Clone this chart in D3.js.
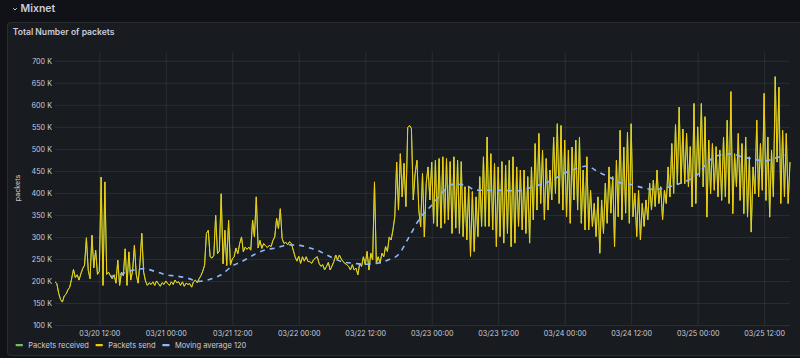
<!DOCTYPE html>
<html><head><meta charset="utf-8">
<script src="https://cdn.jsdelivr.net/npm/d3@7"></script>
<style>
html,body{margin:0;padding:0;background:#111217;overflow:hidden;}
svg{display:block;font-family:Inter,"Noto Sans",sans-serif;}
</style></head><body>
<svg id="chart" width="800" height="358"></svg>
<script>
// ---- data (values in thousands of packets) ----
const startTime = "2023-03-20T04:00:00";
const stepMinutes = 20;
const packetsSend = [
198,194,172,158,152,166,170,180,186,205,
226,208,214,202,216,228,236,298,224,205,
304,230,270,215,222,436,190,425,215,220,
212,205,214,195,247,190,220,212,273,190,
266,202,222,281,215,195,240,308,220,200,
190,196,192,198,190,200,194,188,196,192,
200,194,190,198,192,202,196,198,
190,198,188,195,192,194,186,198,202,196,
205,212,222,236,308,315,255,252,258,349,
262,268,398,239,315,235,338,236,250,255,
275,262,285,300,266,277,272,277,270,338,
300,391,275,292,274,285,280,276,281,278,
292,300,342,319,364,296,285,288,282,289,
285,270,255,245,256,240,255,245,
255,244,244,240,248,252,255,240,233,237,
225,233,242,225,234,244,259,248,259,250,
244,240,237,233,225,237,225,229,214,240,
233,255,237,267,225,263,248,425,240,255,
240,263,255,278,267,300,293,316,346,470,
361,489,391,467,369,549,553,546,384,444,
474,361,323,444,300,421,459,384,
470,331,474,324,478,320,482,331,478,339,
471,308,482,320,474,308,471,301,414,293,
414,256,403,267,391,301,437,324,482,324,
527,324,489,316,467,278,459,301,471,286,
463,308,474,278,482,286,459,324,452,316,
452,308,437,286,459,339,512,361,535,376,
497,339,478,361,452,
384,527,399,557,376,553,361,520,346,497,
331,504,384,520,361,527,331,452,316,482,
316,406,324,376,301,391,263,384,308,422,
331,459,354,437,278,474,346,542,339,504,
354,538,331,557,346,399,301,406,293,376,
324,384,339,422,361,429,369,452,376,414,
339,406,376,459,391,512,399,
555,420,595,421,545,421,535,414,505,368,
603,376,550,436,603,414,573,345,520,398,
512,406,505,391,497,383,527,391,565,376,
630,353,489,414,535,383,512,353,527,345,
482,311,459,398,565,391,512,406,626,383,
527,345,497,391,664,470,640,376,542,391,
535,376,470
];
const packetsReceived = packetsSend.slice();
const maStart = "2023-03-20T14:00:00";
const maStepMinutes = 120;
const movingAverage = [
210,216,224,228,222,214,211,206,199,204,
214,234,246,260,271,275,282,281,275,266,
253,243,240,238,240,247,260,302,345,372,
402,420,418,406,406,406,405,405,413,420,
431,445,455,461,448,436,423,419,412,408,
411,418,427,442,472,486,489,482,477,472,
479,486
];
const yTicks = [100,150,200,250,300,350,400,450,500,550,600,650,700];
const xTickTimes = ["2023-03-20T12:00","2023-03-21T00:00","2023-03-21T12:00","2023-03-22T00:00",
  "2023-03-22T12:00","2023-03-23T00:00","2023-03-23T12:00","2023-03-24T00:00",
  "2023-03-24T12:00","2023-03-25T00:00","2023-03-25T12:00"];
const seriesNames = ["Packets received","Packets send","Moving average 120"];
const seriesColors = ["#73BF69","#F2CC0C","#8AB8FF"];

// ---- drawing ----
const svg = d3.select("#chart");
const parse = d3.timeParse("%Y-%m-%dT%H:%M:%S");
const parseShort = d3.timeParse("%Y-%m-%dT%H:%M");
const t0 = parse(startTime), m0 = parse(maStart);
const sendPts = packetsSend.map((v,i)=>({t:d3.timeMinute.offset(t0,i*stepMinutes),v}));
const recvPts = packetsReceived.map((v,i)=>({t:d3.timeMinute.offset(t0,i*stepMinutes),v}));
const maPts = movingAverage.map((v,i)=>({t:d3.timeMinute.offset(m0,i*maStepMinutes),v}));

const L=55,R=790,T=52,B=325;
const x = d3.scaleTime().domain([t0, parse("2023-03-25T16:40:00")]).range([L,R]);
const y = d3.scaleLinear().domain([100,720]).range([B,T]);

// background panel
svg.append("rect").attr("x",7.5).attr("y",22.5).attr("width",800).attr("height",333)
  .attr("rx",3).attr("fill","#181b1f").attr("stroke","rgba(204,204,220,0.12)");
// row header
svg.append("path").attr("d","M13.2,8.2 L15,10 L16.8,8.2").attr("fill","none")
  .attr("stroke","#ccccdc").attr("stroke-width",1);
svg.append("text").attr("x",20.5).attr("y",11.5).attr("fill","#ccccdc")
  .attr("font-size",10.5).attr("font-weight",600).text("Mixnet");
svg.append("text").attr("x",12.7).attr("y",35.3).attr("fill","#ccccdc")
  .attr("font-size",8.6).attr("font-weight",600).text("Total Number of packets");

// grid
const g = svg.append("g");
const xTicks = xTickTimes.map(s=>parseShort(s));
const xAxis = d3.axisBottom(x).tickValues(xTicks).tickFormat(d3.timeFormat("%m/%d %H:%M"))
  .tickSize(-(B-T)).tickPadding(5);
const gx = g.append("g").attr("transform",`translate(0,${B})`).call(xAxis);
const yAxis = d3.axisLeft(y).tickValues(yTicks).tickFormat(d=>d+" K").tickSize(-(R-L)).tickPadding(3);
const gy = g.append("g").attr("transform",`translate(${L},0)`).call(yAxis);
[gx,gy].forEach(a=>{
  a.select(".domain").remove();
  a.selectAll(".tick line").attr("stroke","rgba(204,204,220,0.1)").attr("stroke-width",1);
  a.selectAll(".tick text").attr("fill","#ccccdc").attr("font-size",7.2).attr("font-family","Inter, sans-serif");
});
gx.selectAll(".tick text").attr("dy","0.9em");
// y axis title
svg.append("text").attr("transform","translate(19.5,188) rotate(-90)").attr("text-anchor","middle")
  .attr("fill","#ccccdc").attr("font-size",7.2).text("packets");

// series
const line = d3.line().x(d=>x(d.t)).y(d=>y(d.v)).curve(d3.curveLinear);
const plot = svg.append("g");
plot.append("path").datum(recvPts).attr("d",line).attr("fill","none")
  .attr("stroke",seriesColors[0]).attr("stroke-width",1);
plot.append("path").datum(sendPts).attr("d",line).attr("fill","none")
  .attr("stroke",seriesColors[1]).attr("stroke-width",1).attr("stroke-linejoin","round");
plot.append("path").datum(maPts).attr("d",line.curve(d3.curveMonotoneX)).attr("fill","none")
  .attr("stroke",seriesColors[2]).attr("stroke-width",1.6).attr("stroke-dasharray","5,5");

// legend
const lg = svg.append("g");
let lx = 15.5;
seriesNames.forEach((n,i)=>{
  lg.append("rect").attr("x",lx).attr("y",344).attr("width",7.5).attr("height",2.2).attr("rx",1)
    .attr("fill",seriesColors[i]);
  const tx = lg.append("text").attr("x",lx+12.8).attr("y",347.6).attr("fill","#ccccdc")
    .attr("font-size",7.5).text(n);
  lx = lx + 12.8 + tx.node().getComputedTextLength() + 6.5;
});
</script>
</body></html>
